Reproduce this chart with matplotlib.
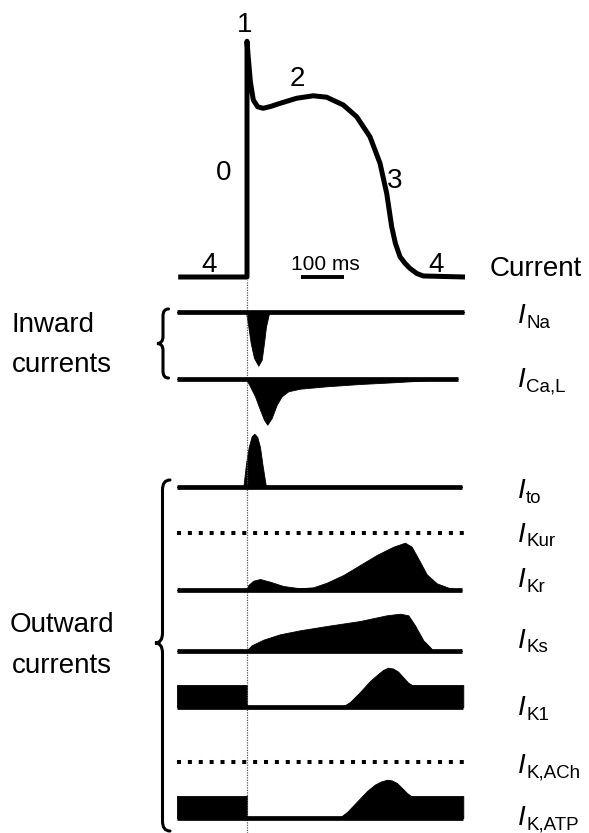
import numpy as np
import matplotlib.pyplot as plt
from matplotlib.path import Path
from matplotlib.patches import PathPatch

plt.rcParams['font.family'] = ['Liberation Sans', 'DejaVu Sans']

W, H = 589, 833

# action potential: time from upstroke (ms), membrane potential (mV)
ap_t = [-160, 0, 0, 3, 8, 14.7, 25, 37.9, 55, 76.7, 115.6, 154.2, 185.3, 224,
        255, 286, 309.3, 324.9, 336.5, 345, 355.8, 367, 379, 395, 410, 507]
ap_v = [-85, -85, 30, 22, 10, 1.3, -2, -2.7, -1.8, -0.3, 2.2, 3.4, 2.7, -1.1,
        -6.8, -16.6, -29.5, -44.2, -60.5, -68.5, -75.1, -78.2, -80.8, -83.3, -84.5, -85]
phase_labels = ['0', '1', '2', '3', '4', '4']

# currents (arbitrary units), inward ones drawn downward
na_t = [-163, -2.3, 3.0, 8.6, 16.3, 26.3, 34.2, 39.5, 44.2, 51.9, 505]
na_a = [0, 0, 14.3, 31, 46, 53.7, 47.7, 31, 14.3, 0, 0]

cal_t = [-163, -2, 7.0, 18.6, 30.2, 39.5, 47.2, 57.4, 69.1, 80.7, 96.0, 123.3,
         185.3, 262.8, 340.2, 417.9, 441.2, 490]
cal_a = [0, 0, 7.3, 17.3, 30.7, 40.7, 45.7, 39, 25.7, 17.3, 12.3, 9.7,
         7.3, 5, 3.3, 1.3, 0, 0]

to_t = [-163, -8.6, -2.3, 4.0, 10.9, 17.0, 24.0, 30.2, 35.6, 44.2, 500]
to_a = [0, 0, 23.3, 40, 50.7, 53.3, 50, 40, 23.3, 0, 0]

kr_t = [-163, -2, 3.0, 14.7, 30.2, 53.5, 84.4, 123.3, 154.2, 185.3, 224.0, 262.8,
        301.6, 340.2, 367.4, 383.0, 402.3, 417.9, 441.2, 472.1, 500]
kr_a = [0, 0, 5, 9.3, 11, 8.3, 4, 1.7, 2.7, 7.3, 15, 25,
        35, 43.3, 47.3, 43.3, 28.3, 15.7, 6.7, 1.7, 0]

ks_t = [-163, -2.3, 10.9, 37.9, 76.7, 123.3, 185.3, 262.8, 324.9, 355.8, 375.1,
        390.7, 410, 425.6, 433.3, 500]
ks_a = [0, 0, 5.7, 11.3, 16.7, 20.7, 25, 30, 35.7, 37.3, 35.7,
        25.7, 10.7, 4, 0, 0]

k1_t = [-163, 0, 0, 220.9, 239.5, 262.8, 286.0, 304.7, 316.3, 327.9, 339.5,
        351.2, 362.8, 374.4, 383.7, 503]
k1_a = [22, 22, 0, 0, 5, 15, 26, 33, 37, 39.3, 38.5,
        35.5, 30, 24.5, 22, 22]

katp_t = [-163, 0, 0, 214, 232.6, 255.8, 279.1, 297.7, 311.6, 325.6, 337.2,
          348.8, 360.5, 372.1, 381.4, 503]
katp_a = [22, 22, 0, 0, 6, 16.5, 27, 33.5, 36.5, 38.3, 37.5,
          35, 30, 25, 22, 22]

current_names = ['Na', 'Ca,L', 'to', 'Kur', 'Kr', 'Ks', 'K1', 'K,ACh', 'K,ATP']

# layout (pixels)
T0_PX, PX_PER_MS = 247, 0.43
REST_PX, PX_PER_MV, REST_MV = 277, 2.05, -85
rows = [312, 379, 487, 533, 590, 651, 707, 762, 818]
label_base = [323, 387, 498, 542, 587, 648, 715, 773, 825]


def tx(px):
    return (px - T0_PX) / PX_PER_MS


fig = plt.figure(figsize=(W / 100, H / 100), dpi=100)

# traces: x in ms, y in pixel rows
ax = fig.add_axes([0, 0, 1, 1])
ax.set_xlim(tx(0), tx(W))
ax.set_ylim(H, 0)
ax.axis('off')

# action potential: x in ms, y in mV
ax_ap = fig.add_axes([0, 0, 1, 1])
ax_ap.set_xlim(tx(0), tx(W))
ax_ap.set_ylim(REST_MV - (H - REST_PX) / PX_PER_MV, REST_MV + REST_PX / PX_PER_MV)
ax_ap.axis('off')
ax_ap.patch.set_alpha(0)

# annotations in pixels
ax_px = fig.add_axes([0, 0, 1, 1])
ax_px.set_xlim(0, W)
ax_px.set_ylim(H, 0)
ax_px.axis('off')
ax_px.patch.set_alpha(0)

LW = 3.4
ax_ap.plot(ap_t, ap_v, color='black', lw=3.6, solid_capstyle='butt')
ax_ap.plot([125, 225], [REST_MV, REST_MV], color='black', lw=2.8, solid_capstyle='butt')

# upstroke marker through all current traces
ax.axvline(0, ymin=0, ymax=1 - (REST_PX + 3) / H, color='#555555', lw=0.9,
           ls=(0, (1, 1)))


def draw_trace(t, a, row, inward=False):
    t = np.asarray(t, float)
    a = np.asarray(a, float)
    y = row + a if inward else row - a
    ax.fill_between(t, row, y, color='black', lw=0.6, edgecolor='black')
    ax.hlines(row, t[0], t[-1], color='black', lw=LW)


draw_trace(na_t, na_a, rows[0], inward=True)
draw_trace(cal_t, cal_a, rows[1], inward=True)
draw_trace(to_t, to_a, rows[2])
ax.hlines(rows[3], -163, 504, color='black', lw=2.9, linestyles=[(0, (1, 1.7))])
draw_trace(kr_t, kr_a, rows[4])
draw_trace(ks_t, ks_a, rows[5])
draw_trace(k1_t, k1_a, rows[6])
ax.hlines(rows[7], -163, 504, color='black', lw=2.9, linestyles=[(0, (1, 1.7))])
draw_trace(katp_t, katp_a, rows[8])

FS = 20
# phase numbers
for lab, (x, y) in zip(phase_labels, [(224, 180), (245, 32), (297, 86), (395, 188),
                                      (209, 272), (436, 272)]):
    ax_px.text(x, y, lab, fontsize=FS, ha='center', va='baseline')
ax_px.text(325, 270, '100 ms', fontsize=15, ha='center', va='baseline')
ax_px.text(490, 276, 'Current', fontsize=FS, ha='left', va='baseline')

for name, yb in zip(current_names, label_base):
    ax_px.text(518, yb, 'I', fontsize=FS, style='italic', ha='left', va='baseline')
    ax_px.text(526, yb + 4.5, name, fontsize=13.5, ha='left', va='baseline')

ax_px.text(12, 332, 'Inward', fontsize=FS, va='baseline')
ax_px.text(12, 372, 'currents', fontsize=FS, va='baseline')
ax_px.text(10, 632, 'Outward', fontsize=FS, va='baseline')
ax_px.text(12, 673, 'currents', fontsize=FS, va='baseline')


def brace(x_tip, x_mid, x_end, y0, y1, ym, r=8):
    C3, L = Path.CURVE3, Path.LINETO
    verts = [(x_end, y0), (x_mid, y0), (x_mid, y0 + r),
             (x_mid, ym - r), (x_mid, ym), (x_tip, ym),
             (x_mid, ym), (x_mid, ym + r),
             (x_mid, y1 - r), (x_mid, y1), (x_end, y1)]
    codes = [Path.MOVETO, C3, C3, L, C3, C3, C3, C3, L, C3, C3]
    ax_px.add_patch(PathPatch(Path(verts, codes), fill=False, lw=2.2,
                              edgecolor='black', capstyle='round'))


brace(157, 163, 168.5, 309, 378, 343.5, r=7)
brace(155, 162.5, 170, 480, 831, 643, r=10)

fig.savefig('out.png', dpi=100)
